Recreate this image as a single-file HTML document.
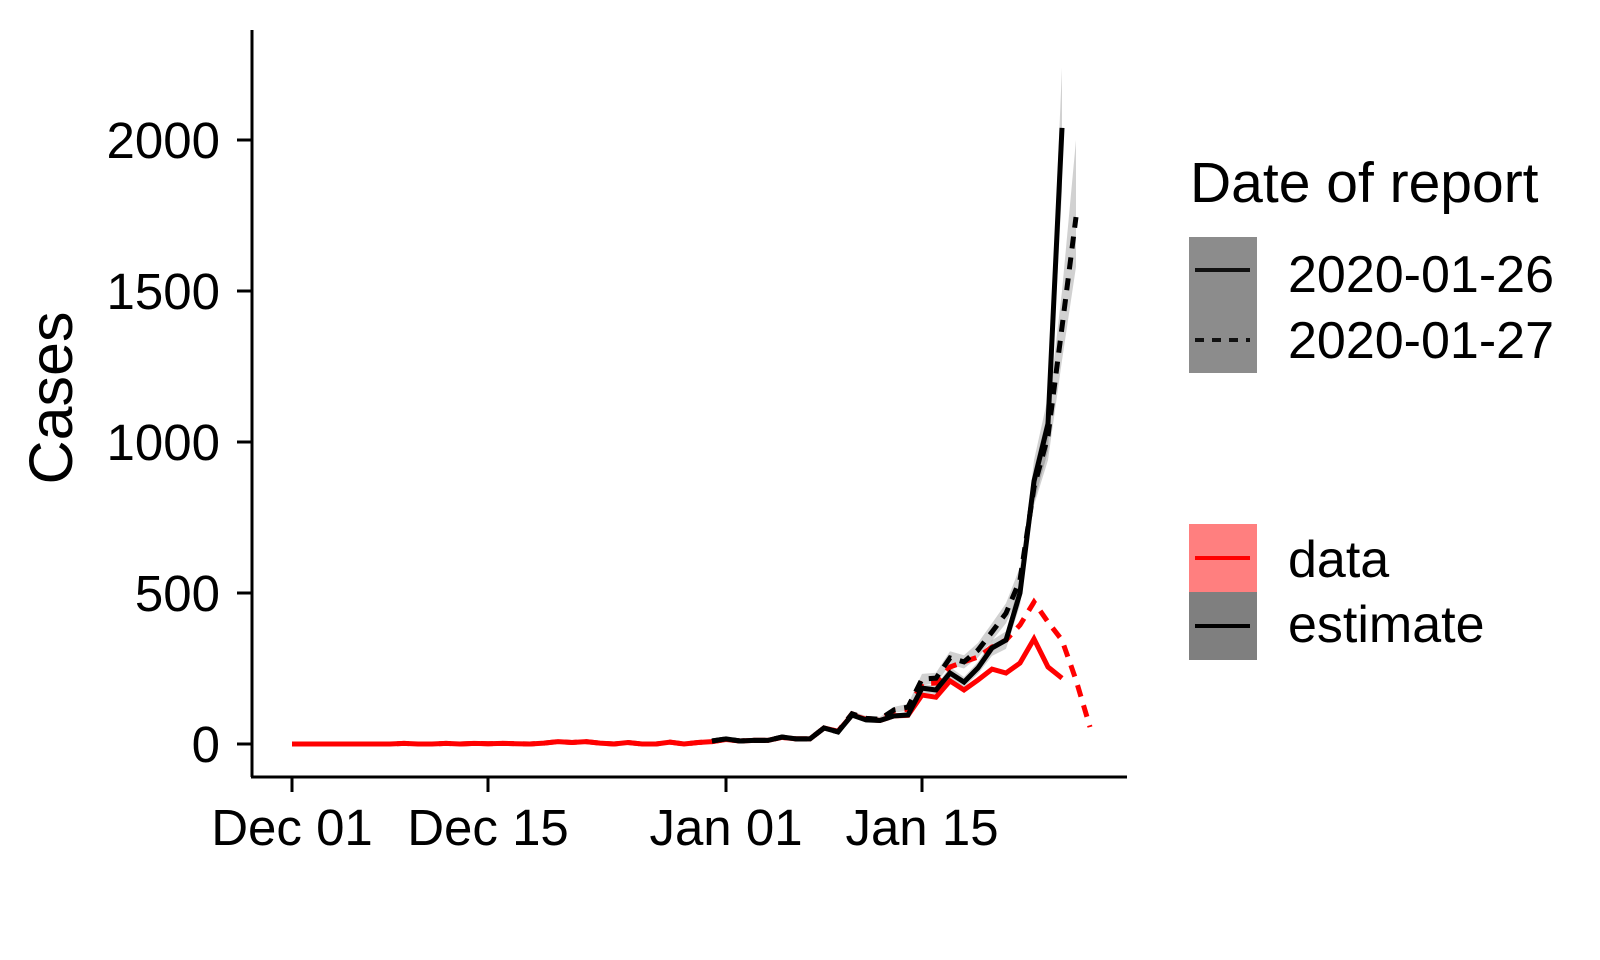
<!DOCTYPE html>
<html><head><meta charset="utf-8">
<style>
html,body{margin:0;padding:0;background:#fff;}
svg{display:block;font-family:"Liberation Sans",Arial,sans-serif;}
</style></head>
<body>
<svg id="chart" width="1600" height="960" viewBox="0 0 1600 960" xmlns="http://www.w3.org/2000/svg">
  <rect x="0" y="0" width="1600" height="960" fill="#fff"/>
  <g id="ribbons"></g>
  <g id="lines"></g>
  <g id="axes">
    <line x1="252" y1="30" x2="252" y2="777" stroke="#000" stroke-width="3"/>
    <line x1="251" y1="777" x2="1127" y2="777" stroke="#000" stroke-width="3"/>
  </g>
  <text x="0" y="0" transform="translate(72,398) rotate(-90)" text-anchor="middle" font-size="61">Cases</text>
  <g id="legend">
    <text x="1190" y="202" font-size="57">Date of report</text>
    <rect x="1189" y="237" width="68" height="136" fill="#8c8c8c"/>
    <line x1="1195" y1="270" x2="1250" y2="270" stroke="#111" stroke-width="4"/>
    <line x1="1195" y1="340" x2="1250" y2="340" stroke="#111" stroke-width="4" stroke-dasharray="9,8"/>
    <text x="1288" y="292" font-size="52">2020-01-26</text>
    <text x="1288" y="358" font-size="52">2020-01-27</text>
    <rect x="1189" y="524" width="68" height="68" fill="#ff7f7f"/>
    <rect x="1189" y="592" width="68" height="68" fill="#7f7f7f"/>
    <line x1="1195" y1="558" x2="1250" y2="558" stroke="#f00" stroke-width="4"/>
    <line x1="1195" y1="626" x2="1250" y2="626" stroke="#000" stroke-width="4"/>
    <text x="1288" y="577" font-size="52">data</text>
    <text x="1288" y="642" font-size="52">estimate</text>
  </g>
</svg>
<script>
const xTickDays = [0, 14, 31, 45];
const xTickLabels = ["Dec 01", "Dec 15", "Jan 01", "Jan 15"];
const yTicks = [0, 500, 1000, 1500, 2000];
// data reported 2020-01-26 (days 0..55 since Dec 01)
const dataSolid = [0,0,0,0,0,0,0,0,2,0,0,2,0,2,1,2,1,0,3,8,5,8,3,0,5,0,0,6,0,5,8,15,10,12,12,22,17,17,53,42,96,82,78,93,95,162,155,209,179,212,248,235,268,348,255,218];
// data reported 2020-01-27 (days 0..57)
const dataDashed = [0,0,0,0,0,0,0,0,2,0,0,2,0,2,1,2,1,0,3,8,5,8,3,0,5,0,0,6,0,5,8,15,10,12,12,22,17,17,53,42,100,85,80,110,115,200,202,255,272,288,321,344,394,470,404,344,212,56];
// estimates start on day 30
const estStart = 30;
const estSolid = [10,17,10,12,12,23,17,17,53,40,96,80,78,93,96,185,179,235,205,252,318,344,500,870,1060,2040];
const estSolidLow = [8,14,8,10,10,20,14,14,48,36,88,72,70,84,86,170,165,215,188,232,292,315,460,800,970,1830];
const estSolidHigh = [12,20,12,14,14,26,20,20,58,44,104,88,86,102,106,200,193,255,222,272,344,373,540,940,1150,2240];
const estDashed = [10,17,10,12,12,23,17,17,53,40,100,85,82,113,122,215,218,285,272,311,371,433,543,850,1020,1380,1745];
const estDashedLow = [8,14,8,10,10,20,14,14,48,36,92,77,74,103,111,198,200,263,250,287,342,400,500,790,940,1270,1580];
const estDashedHigh = [12,20,12,14,14,26,20,20,58,44,108,93,90,123,133,232,236,307,294,335,400,466,586,910,1100,1500,2000];

const NS = "http://www.w3.org/2000/svg";
const xScale = d => 292 + d * 14.0;
const yScale = v => 744 - v * 0.302;

const axes = document.getElementById('axes');
const ribbons = document.getElementById('ribbons');
const lines = document.getElementById('lines');

function mk(tag, attrs, parent) {
  const e = document.createElementNS(NS, tag);
  for (const k in attrs) e.setAttribute(k, attrs[k]);
  parent.appendChild(e);
  return e;
}

yTicks.forEach(v => {
  const t = mk('line', {x1: 237, x2: 252, y1: yScale(v), y2: yScale(v), stroke: '#000', 'stroke-width': 3}, axes);
  
  
  const l = mk('text', {x: 220, y: yScale(v) + 18, 'text-anchor': 'end', 'font-size': 51}, axes);
  l.textContent = v;
  
  
});
xTickDays.forEach((d, i) => {
  const t = mk('line', {x1: xScale(d), x2: xScale(d), y1: 777, y2: 792, stroke: '#000', 'stroke-width': 3}, axes);
  
  
  const l = mk('text', {x: xScale(d), y: 845, 'text-anchor': 'middle', 'font-size': 51}, axes);
  l.textContent = xTickLabels[i];
  
  
});

function ribbon(low, high, start) {
  let pts = [];
  low.forEach((v, i) => pts.push(xScale(start + i) + ',' + yScale(v)));
  for (let i = high.length - 1; i >= 0; i--) pts.push(xScale(start + i) + ',' + yScale(high[i]));
  return pts.join(' ');
}
function path(vals, start) {
  return vals.map((v, i) => xScale(start + i) + ',' + yScale(v)).join(' ');
}

const r1 = mk('polygon', {points: ribbon(estSolidLow, estSolidHigh, estStart), fill: '#000', 'fill-opacity': 0.18}, ribbons);


const r2 = mk('polygon', {points: ribbon(estDashedLow, estDashedHigh, estStart), fill: '#000', 'fill-opacity': 0.18}, ribbons);



const l1 = mk('polyline', {points: path(dataDashed, 0), fill: 'none', stroke: '#f00', 'stroke-width': 5, 'stroke-dasharray': '12,9'}, lines);


const l2 = mk('polyline', {points: path(dataSolid, 0), fill: 'none', stroke: '#f00', 'stroke-width': 5}, lines);


const l3 = mk('polyline', {points: path(estDashed, estStart), fill: 'none', stroke: '#000', 'stroke-width': 5, 'stroke-dasharray': '12,9'}, lines);


const l4 = mk('polyline', {points: path(estSolid, estStart), fill: 'none', stroke: '#000', 'stroke-width': 5}, lines);


</script>
</body></html>
